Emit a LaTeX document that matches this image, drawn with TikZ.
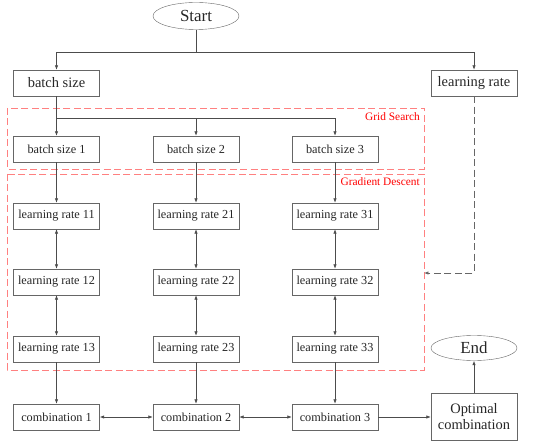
\documentclass[tikz,border=0pt]{standalone}
\usepackage{fontspec}
\setmainfont{Liberation Serif}
\usetikzlibrary{arrows.meta, positioning, shapes.geometric}

\begin{document}
\begin{tikzpicture}[x=1bp, y=-1bp,
    block/.style={draw=black!60, fill=white, minimum width=86bp, minimum height=26bp, inner sep=1pt, align=center, text=black!85, font=\fontsize{12.3}{13}\selectfont},
    bigblock/.style={block, font=\fontsize{14.5}{16}\selectfont},
    terminal/.style={draw=black!60, ellipse, minimum width=86bp, minimum height=27bp, inner sep=0pt, text=black!85, font=\fontsize{17}{18}\selectfont},
    signal/.style={-{Latex[length=4.5pt,width=3.5pt]}, black!70, line width=0.7pt},
    twoway/.style={{Latex[length=4.5pt,width=3.5pt]}-{Latex[length=4.5pt,width=3.5pt]}, black!70, line width=0.7pt},
    region/.style={draw=red!50, dash pattern=on 7bp off 3.5bp, line width=0.9pt},
    tag/.style={red, anchor=north east, inner sep=0pt, font=\fontsize{11.4}{12}\selectfont}
]
\useasboundingbox (0,0) rectangle (550,445);

% Search regions
\draw[region] (7,108) rectangle (424,169);
\node[tag] (gridtag) at (420,112) {Grid Search};
\draw[region] (7,174) rectangle (424,370);
\node[tag] (gdtag) at (420,177) {Gradient Descent};

% Start and parameters
\node[terminal] (start) at (196,16) {Start};
\node[bigblock] (bs) at (56.5,83) {batch size};
\node[bigblock] (lr) at (474,83) {learning rate};

% Grid of batch sizes and learning rates
\foreach \i/\x in {1/56.5, 2/196, 3/335} {
    \node[block] (bs\i) at (\x,149) {batch size \i};
    \node[block] (lr\i1) at (\x,216) {learning rate \i1};
    \node[block] (lr\i2) at (\x,282) {learning rate \i2};
    \node[block] (lr\i3) at (\x,349) {learning rate \i3};
    \node[block] (comb\i) at (\x,417) {combination \i};
}

% Result
\node[bigblock, minimum height=47bp] (opt) at (474,417) {Optimal\\combination};
\node[terminal, minimum height=25bp] (end) at (474,348) {End};

% Start splits into the two parameters
\coordinate (split) at (196,52);
\draw[signal, -] (start) -- (split);
\draw[signal] (split) -| (bs.north);
\draw[signal] (split) -| (lr.north);

% Batch size branches
\coordinate (fork) at (56.5,118);
\draw[signal, -] (bs) -- (fork);
\draw[signal] (fork) -- (bs1);
\draw[signal] (fork) -| (bs2.north);
\draw[signal] (fork) -| (bs3.north);

\foreach \i in {1,2,3} {
    \draw[signal] (bs\i) -- (lr\i1);
    \draw[twoway] (lr\i1) -- (lr\i2);
    \draw[twoway] (lr\i2) -- (lr\i3);
    \draw[signal] (lr\i3) -- (comb\i);
}

% Learning rate feeds gradient descent
\coordinate (bend) at (474,273);
\coordinate (gdin) at (424,273);
\draw[signal, black!60, dash pattern=on 7bp off 3.5bp] (lr.south) -- (bend) -- (gdin);

% Combinations
\draw[twoway] (comb1) -- (comb2);
\draw[twoway] (comb2) -- (comb3);
\draw[signal] (comb3) -- (opt);
\draw[signal] (opt) -- (end);

\end{tikzpicture}
\end{document}
